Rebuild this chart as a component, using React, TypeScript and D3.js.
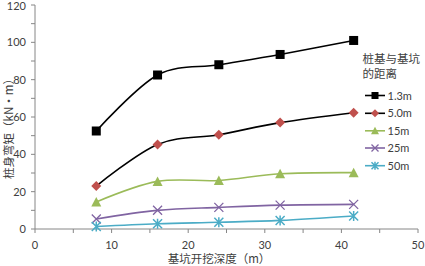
import React from "react";
import * as d3 from "d3";

const depths = [8, 16, 24, 32, 41.6];
const s13 = [52.5, 82.5, 88, 93.5, 101];
const s50 = [23, 45.3, 50.5, 57, 62.3];
const s15 = [14.5, 25.5, 26, 29.6, 30.2];
const s25 = [5.4, 10, 11.6, 12.8, 13.2];
const s50m = [1.3, 2.8, 3.6, 4.6, 7];
const seriesNames = ["1.3m", "5.0m", "15m", "25m", "50m"];
const xTicks = [0, 10, 20, 30, 40, 50];
const yTicks = [0, 20, 40, 60, 80, 100, 120];

const W = 425, H = 266;
const x = d3.scaleLinear().domain([0, 50]).range([35, 418]);
const y = d3.scaleLinear().domain([0, 120]).range([229, 5]);

const NUM_FONT = "Lato, 'Open Sans', sans-serif";
const CJK_FONT = "'Noto Sans CJK SC', sans-serif";
const AXIS = "#868686";
const TXT = "#404040";

type Ser = { name: string; vals: number[]; line: string; fill: string; marker: string };
const series: Ser[] = [
  { name: seriesNames[0], vals: s13, line: "#000000", fill: "#000000", marker: "square" },
  { name: seriesNames[1], vals: s50, line: "#000000", fill: "#C0504D", marker: "diamond" },
  { name: seriesNames[2], vals: s15, line: "#9BBB59", fill: "#9BBB59", marker: "triangle" },
  { name: seriesNames[3], vals: s25, line: "#8064A2", fill: "#8064A2", marker: "x" },
  { name: seriesNames[4], vals: s50m, line: "#4BACC6", fill: "#4BACC6", marker: "star" },
];

function Marker({ type, cx, cy, r, color }: { type: string; cx: number; cy: number; r: number; color: string }) {
  if (type === "square") return <rect x={cx - r} y={cy - r} width={2 * r} height={2 * r} fill={color} />;
  if (type === "diamond")
    return <path d={`M${cx},${cy - r - 0.5}L${cx + r + 0.5},${cy}L${cx},${cy + r + 0.5}L${cx - r - 0.5},${cy}Z`} fill={color} />;
  if (type === "triangle")
    return <path d={`M${cx},${cy - r - 0.5}L${cx + r + 0.5},${cy + r}L${cx - r - 0.5},${cy + r}Z`} fill={color} />;
  if (type === "x")
    return (
      <path d={`M${cx - r},${cy - r}L${cx + r},${cy + r}M${cx - r},${cy + r}L${cx + r},${cy - r}`} stroke={color} strokeWidth={1.3} fill="none" />
    );
  return (
    <path
      d={`M${cx - r},${cy - r}L${cx + r},${cy + r}M${cx - r},${cy + r}L${cx + r},${cy - r}M${cx},${cy - r - 0.5}L${cx},${cy + r + 0.5}`}
      stroke={color}
      strokeWidth={1.5}
      fill="none"
    />
  );
}

export default function App() {
  const line = d3
    .line<number>()
    .x((_, i) => x(depths[i]))
    .y((d) => y(d))
    .curve(d3.curveCatmullRom.alpha(0));

  const xMinor = d3.range(0, 51, 5);
  const yMinor = d3.range(0, 121, 10);
  const legY = [95.5, 113.3, 130.8, 148, 165.7];

  return (
    <svg width={W} height={H} style={{ position: "absolute", left: 0, top: 0, background: "#fff" }}>
      {/* axes */}
      <line x1={x(0)} x2={x(50)} y1={y(0)} y2={y(0)} stroke={AXIS} strokeWidth={1} />
      <line x1={x(0)} x2={x(0)} y1={y(0)} y2={y(120)} stroke={AXIS} strokeWidth={1} />
      {xMinor.map((t) => (
        <line key={"xt" + t} x1={x(t)} x2={x(t)} y1={y(0)} y2={y(0) + 4} stroke={AXIS} />
      ))}
      {yMinor.map((t) => (
        <line key={"yt" + t} x1={x(0) - 4} x2={x(0)} y1={y(t)} y2={y(t)} stroke={AXIS} />
      ))}
      {xTicks.map((t) => (
        <text key={"xl" + t} x={x(t)} y={y(0) + 20} textAnchor="middle" fontFamily={NUM_FONT} fontSize={11} fill={TXT}>
          {t}
        </text>
      ))}
      {yTicks.map((t) => (
        <text key={"yl" + t} x={26} y={y(t) + (t === 120 ? 4.5 : 4)} textAnchor="end" fontFamily={NUM_FONT} fontSize={11} fill={TXT}>
          {t}
        </text>
      ))}
      <text x={219} y={263} textAnchor="middle" fontFamily={CJK_FONT} fontSize={11.5} fill={TXT}>
        基坑开挖深度（m）
      </text>
      <text
        transform={`translate(13,${(y(0) + y(120)) / 2 + 9}) rotate(-90)`}
        textAnchor="middle"
        fontFamily={CJK_FONT}
        fontSize={11.5}
        fill={TXT}
      >
        桩身弯矩（kN·m）
      </text>

      {/* series */}
      {series.map((s) => (
        <g key={s.name}>
          <path d={line(s.vals) || ""} fill="none" stroke={s.line} strokeWidth={1.6} />
          {s.vals.map((v, i) => (
            <Marker key={i} type={s.marker} cx={x(depths[i])} cy={y(v)} r={4.5} color={s.fill} />
          ))}
        </g>
      ))}

      {/* legend */}
      <text x={362.5} y={63} fontFamily={CJK_FONT} fontSize={11.5} fill={TXT}>
        桩基与基坑
      </text>
      <text x={362.5} y={77.5} fontFamily={CJK_FONT} fontSize={11.5} fill={TXT}>
        的距离
      </text>
      {series.map((s, i) => (
        <g key={"lg" + s.name}>
          <line x1={365} x2={385} y1={legY[i]} y2={legY[i]} stroke={s.line} strokeWidth={1.6} />
          <Marker type={s.marker} cx={375} cy={legY[i]} r={3.5} color={s.fill} />
          <text x={387.5} y={legY[i] + 4} fontFamily={NUM_FONT} fontSize={11} fill={TXT}>
            {s.name}
          </text>
        </g>
      ))}
    </svg>
  );
}
